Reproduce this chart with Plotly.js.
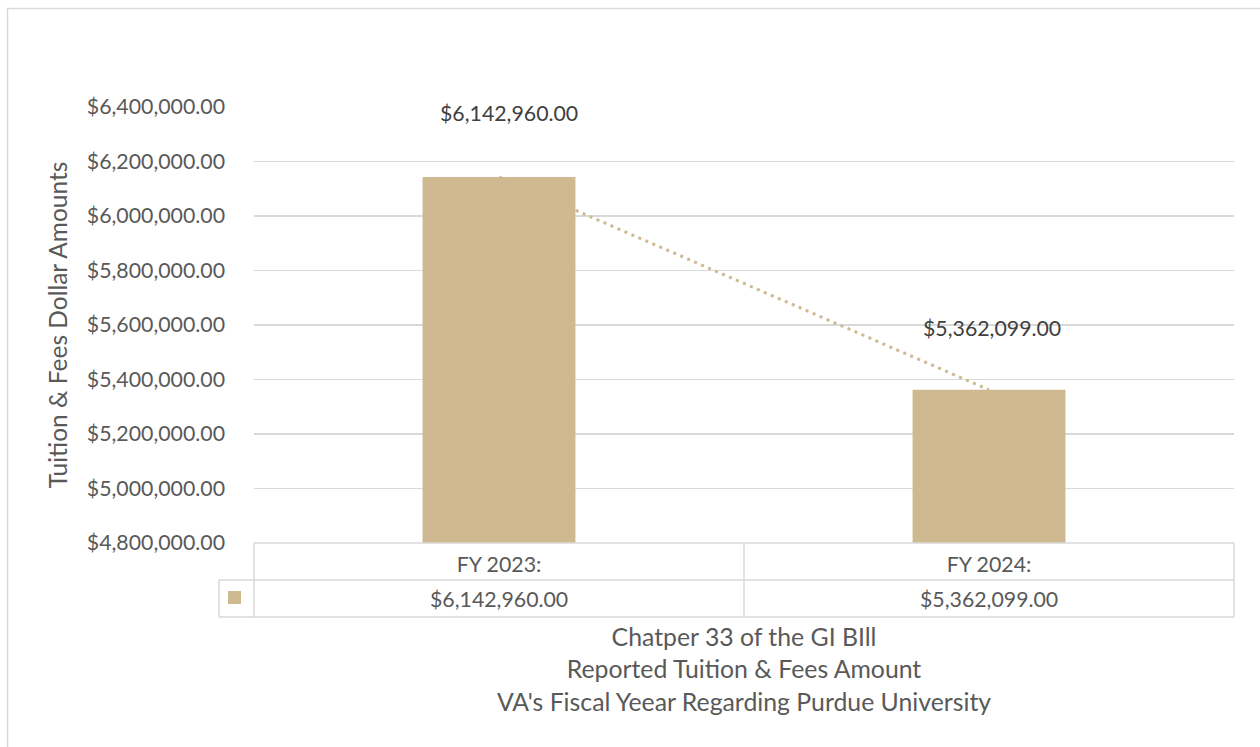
<!DOCTYPE html>
<html>
<head>
<meta charset="utf-8">
<script src="https://cdn.plot.ly/plotly-3.0.1.min.js"></script>
<style>html,body{margin:0;padding:0;background:#fff;}#chart{width:1260px;height:747px;}</style>
</head>
<body>
<div id="chart"></div>
<script>
// ---- data ----
const categories = ['FY 2023:', 'FY 2024:'];
const amounts = [6142960, 5362099];
const seriesName = 'Tuition & Fees Amount';
const yTitle = 'Tuition & Fees Dollar Amounts';
const xTitleLines = ['Chatper 33 of the GI BIll', 'Reported Tuition & Fees Amount', "VA's Fiscal Yeear Regarding Purdue University"];
const yRange = [4800000, 6400000];
const yStep = 200000;

// ---- styling / geometry ----
const W = 1260, H = 747;
const plotL = 254, plotR = 1234, plotT = 107, plotB = 543;
const gold = '#CFB991';
const grid = '#D9D9D9';
const txt = '#595959';
const FONT = 'Lato, "Open Sans", sans-serif';
const TICK = 21.3;
const TITLE = 24.8;
const px2x = p => (p - plotL) / (plotR - plotL);
const px2y = p => (plotB - p) / (plotB - plotT);

function fmtMoney(v) {
  return '$' + v.toLocaleString('en-US', {minimumFractionDigits: 2, maximumFractionDigits: 2});
}

const bars = {
  type: 'bar', x: categories, y: amounts, name: seriesName,
  marker: {color: gold}, width: 0.312, hoverinfo: 'x+y'
};
const trend = {
  type: 'scatter', mode: 'lines', x: categories, y: amounts,
  line: {color: gold, width: 3, dash: '3px,4.6px'}, hoverinfo: 'skip', showlegend: false
};

const annotations = [];
// data labels above bars
const labelShift = [[10, 64], [3, 62]];
categories.forEach((c, i) => {
  annotations.push({
    x: c, y: amounts[i], xref: 'x', yref: 'y', text: fmtMoney(amounts[i]),
    showarrow: false, xshift: labelShift[i][0], yshift: labelShift[i][1],
    font: {family: FONT, size: TICK, color: '#404040'}
  });
  // data table value row
  annotations.push({
    x: c, y: px2y(599), xref: 'x', yref: 'paper', text: fmtMoney(amounts[i]),
    showarrow: false, yanchor: 'middle',
    font: {family: FONT, size: TICK, color: txt}
  });
});

const lineStyle = {color: grid, width: 1.5};
const hline = (x0p, x1p, yp) => ({type: 'line', xref: 'paper', yref: 'paper', x0: px2x(x0p), x1: px2x(x1p), y0: px2y(yp), y1: px2y(yp), line: lineStyle});
const vline = (xp, y0p, y1p) => ({type: 'line', xref: 'paper', yref: 'paper', x0: px2x(xp), x1: px2x(xp), y0: px2y(y0p), y1: px2y(y1p), line: lineStyle});

const shapes = [
  // outer chart border
  {type: 'rect', xref: 'paper', yref: 'paper', x0: px2x(7.5), x1: px2x(1265), y0: px2y(8.5), y1: px2y(760), line: {color: grid, width: 1.5}, fillcolor: 'rgba(0,0,0,0)'},
  // data table
  hline(254, 1234, 543),
  hline(219, 1234, 580),
  hline(219, 1234, 617),
  vline(219, 580, 617),
  vline(254, 543, 617),
  {type: 'line', xref: 'x', yref: 'paper', x0: 0.5, x1: 0.5, y0: px2y(543), y1: px2y(617), line: lineStyle},
  vline(1234, 543, 617),
  // legend key
  {type: 'rect', xref: 'paper', yref: 'paper', x0: px2x(228), x1: px2x(241), y0: px2y(591), y1: px2y(604), line: {width: 0}, fillcolor: gold}
];

const layout = {
  width: W, height: H,
  margin: {l: plotL, r: W - plotR, t: plotT, b: H - plotB, pad: 0},
  paper_bgcolor: '#fff', plot_bgcolor: '#fff',
  showlegend: false,
  font: {family: FONT, color: txt, size: TICK},
  xaxis: {
    type: 'category', range: [-0.5, 1.5], showgrid: false, zeroline: false,
    showline: false, ticks: '', ticklabelstandoff: 7,
    tickfont: {family: FONT, size: TICK, color: txt},
    title: {text: xTitleLines.join('<br>'), standoff: 52, font: {family: FONT, size: TITLE, color: txt}}
  },
  yaxis: {
    range: yRange, dtick: yStep, tick0: yRange[0], tickformat: '$,.2f',
    showgrid: true, gridcolor: grid, gridwidth: 1.5, zeroline: false, showline: false,
    ticks: '', ticklabelstandoff: 28,
    tickfont: {family: FONT, size: TICK, color: txt},
    title: {text: yTitle, standoff: 12, font: {family: FONT, size: 24.5, color: txt}}
  },
  annotations: annotations,
  shapes: shapes
};

Plotly.newPlot('chart', [bars, trend], layout, {displayModeBar: false, staticPlot: true});
</script>
</body>
</html>
